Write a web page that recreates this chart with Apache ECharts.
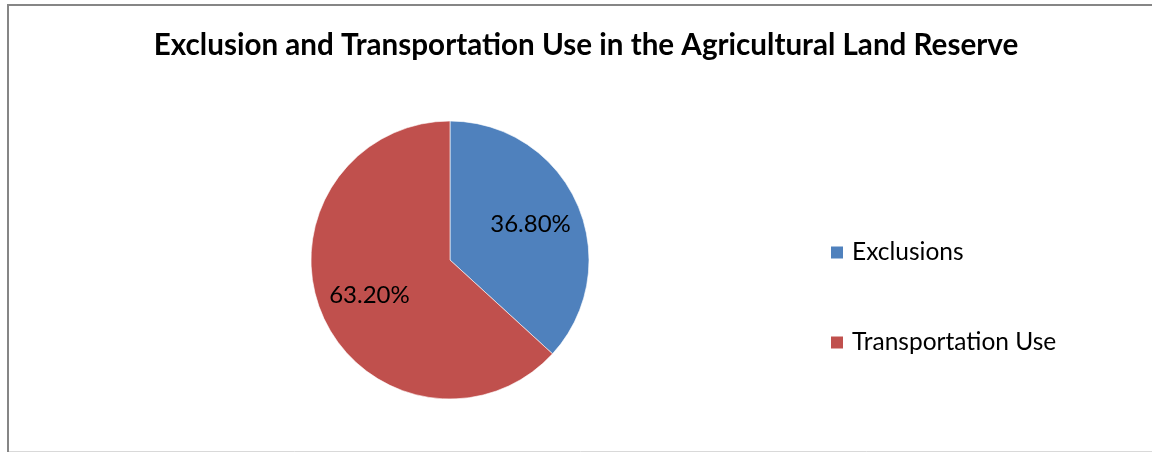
<!DOCTYPE html>
<html>
<head>
<meta charset="utf-8">
<script src="https://cdn.jsdelivr.net/npm/echarts@6/dist/echarts.min.js"></script>
<style>
html,body{margin:0;padding:0;background:#fff;}
#chart{width:1152px;height:452px;}
</style>
</head>
<body>
<div id="chart"></div>
<script>
const titleText = "Exclusion and Transportation Use in the Agricultural Land Reserve";
const categories = ["Exclusions", "Transportation Use"];
const values = [36.8, 63.2];
const colors = ["#4F81BD", "#C0504D"];

const pieData = categories.map((c, i) => ({ name: c, value: values[i], itemStyle: { color: colors[i] } }));

const chart = echarts.init(document.getElementById('chart'));
chart.setOption({
  backgroundColor: '#fff',
  animation: false,
  title: {
    text: titleText,
    left: 581, textAlign: 'center', top: 25,
    textStyle: { fontFamily: 'Lato', fontWeight: 'bold', fontSize: 29.6, color: '#000' }
  },
  legend: {
    orient: 'vertical',
    left: 824, top: 235,
    itemWidth: 14, itemHeight: 14, itemGap: 65,
    icon: 'rect',
    data: categories,
    textStyle: { fontFamily: 'Lato', fontSize: 24.5, lineHeight: 24, color: '#000', padding: [0, 0, 0, 3] }
  },
  graphic: [
    { type: 'line', silent: true, z: 100, shape: { x1: 8, y1: 4, x2: 8, y2: 452 }, style: { stroke: '#868686', lineWidth: 2 } },
    { type: 'line', silent: true, z: 100, shape: { x1: 7, y1: 5, x2: 1152, y2: 5 }, style: { stroke: '#868686', lineWidth: 2 } },
    { type: 'line', silent: true, z: 100, shape: { x1: 9, y1: 451.5, x2: 1152, y2: 451.5 }, style: { stroke: '#d9d9d9', lineWidth: 1 } }
  ],
  series: [{
    type: 'pie',
    center: [450, 260], radius: [0, 139],
    startAngle: 90, clockwise: true,
    itemStyle: { borderColor: '#fff', borderWidth: 0.6 },
    label: { show: false },
    labelLine: { show: false },
    data: pieData
  }, {
    type: 'pie', silent: true,
    center: [450, 260], radius: [0, 170],
    startAngle: 90, clockwise: true,
    itemStyle: { color: 'rgba(0,0,0,0)' },
    label: {
      show: true, position: 'inside',
      formatter: p => p.value.toFixed(2) + '%',
      fontFamily: 'Lato', fontSize: 24, color: '#000'
    },
    labelLine: { show: false },
    data: categories.map((c, i) => ({ name: c, value: values[i] })),
    z: 3
  }]
});
</script>
</body>
</html>
